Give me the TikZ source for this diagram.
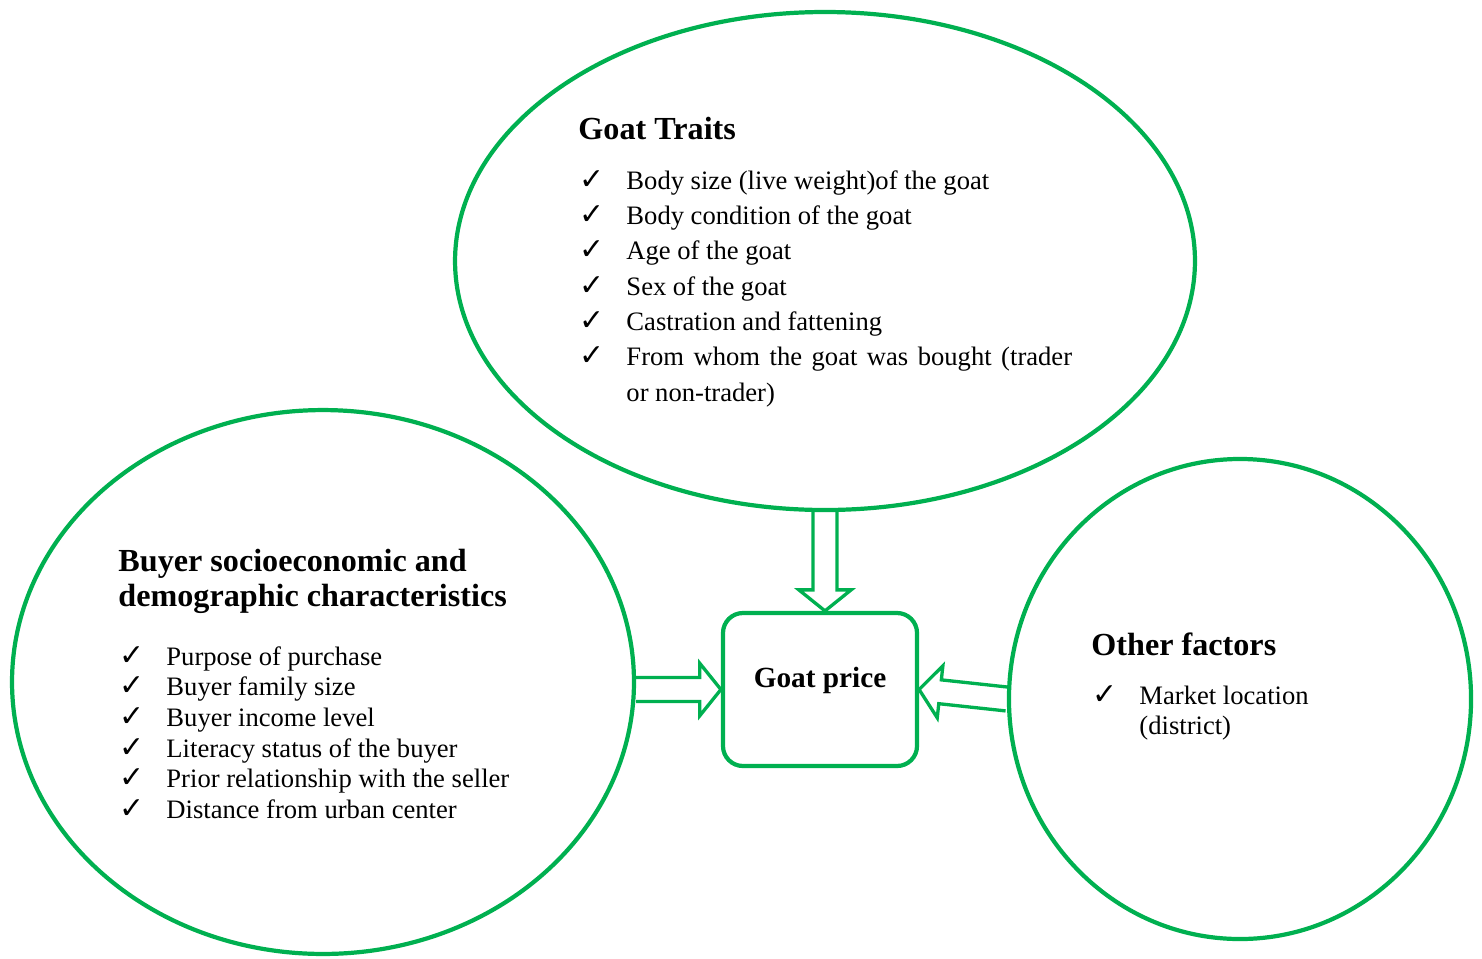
\documentclass[tikz,border=0pt]{standalone}
\usepackage{fontspec}
\setmainfont{Liberation Serif}
\newfontfamily\symfont{DejaVu Sans}
\usepackage{tikz}
\usetikzlibrary{shapes.geometric, calc}

\definecolor{wordgreen}{RGB}{0,176,80}
\newcommand{\tick}{{\symfont\fontsize{13.5}{13.5}\selectfont ✓}}

% hollow block arrow from #1 to #2 (tip at #2)
\newcommand{\hollowarrow}[2]{%
  \coordinate (ha) at (#1);
  \coordinate (hb) at (#2);
  \coordinate (hc) at ($(hb)!9.5pt!(ha)$);
  \draw[blockarrow] ($(ha)!5.4pt!90:(hb)$) -- ($(hc)!5.4pt!-90:(ha)$)
    -- ($(hc)!11.8pt!-90:(ha)$) -- (hb) -- ($(hc)!11.8pt!90:(ha)$)
    -- ($(hc)!5.4pt!90:(ha)$) -- ($(ha)!5.4pt!-90:(hb)$);
}

\begin{document}
\begin{tikzpicture}[x=0.451pt, y=-0.451pt,
  bubble/.style={ellipse, draw=wordgreen, line width=1.9pt, inner sep=0pt},
  pricebox/.style={rectangle, rounded corners=9pt, draw=wordgreen, line width=1.9pt,
                   minimum width=87.5pt, minimum height=69pt, inner sep=0pt},
  blockarrow/.style={draw=wordgreen, line width=1.5pt, line join=miter},
  head/.style={font=\fontsize{14.5}{16.2}\selectfont\bfseries, inner sep=0pt},
  items/.style={inner sep=0pt, anchor=base west}]
\useasboundingbox (0,0) rectangle (1482,958);

\node[bubble, minimum width=333.7pt, minimum height=224.6pt] (traits) at (825,261) {};
\node[bubble, minimum width=280.5pt, minimum height=245.3pt] (buyer) at (323,682) {};
\node[bubble, minimum width=208.4pt, minimum height=216.5pt] (other) at (1240,699) {};
\node[pricebox] (price) at (820,689.5) {};
\node[head, anchor=base, yshift=0.7pt, font=\fontsize{13.2}{15}\selectfont\bfseries]
  (pricetxt) at (price.center) {Goat price};

% goat traits
\node[head, anchor=base west] (traitshead) at (578,139) {Goat Traits};
\node[items] (traitslist) at (579,189) {\fontsize{12}{15.95}\selectfont
  \begin{tabular}[t]{@{}p{21.2pt}@{}p{201pt}@{}}
  \tick & Body size (live weight)of the goat\\
  \tick & Body condition of the goat\\
  \tick & Age of the goat\\
  \tick & Sex of the goat\\
  \tick & Castration and fattening\\
  \tick & From whom the goat was bought (trader\linebreak or non-trader)
  \end{tabular}};

% buyer characteristics
\node[head, anchor=base west] (buyerhead) at (118,571) {\fontsize{14.5}{16.2}\selectfont
  \begin{tabular}[t]{@{}l@{}}Buyer socioeconomic and\\ demographic characteristics\end{tabular}};
\node[items] (buyerlist) at (119,665) {\fontsize{12}{13.85}\selectfont
  \begin{tabular}[t]{@{}p{21.2pt}@{}l@{}}
  \tick & Purpose of purchase\\
  \tick & Buyer family size\\
  \tick & Buyer income level\\
  \tick & Literacy status of the buyer\\
  \tick & Prior relationship with the seller\\
  \tick & Distance from urban center
  \end{tabular}};

% other factors
\node[head, anchor=base west] (otherhead) at (1091,655) {Other factors};
\node[items] (otherlist) at (1092,704) {\fontsize{12}{13.8}\selectfont
  \begin{tabular}[t]{@{}p{21.2pt}@{}p{100pt}@{}}
  \tick & Market location\newline (district)
  \end{tabular}};

% arrows into the price box
\hollowarrow{traits.south}{traits.south |- price.north}
\hollowarrow{buyer.east |- price.west}{price.west}
\hollowarrow{other.west}{price.east}
\end{tikzpicture}
\end{document}
